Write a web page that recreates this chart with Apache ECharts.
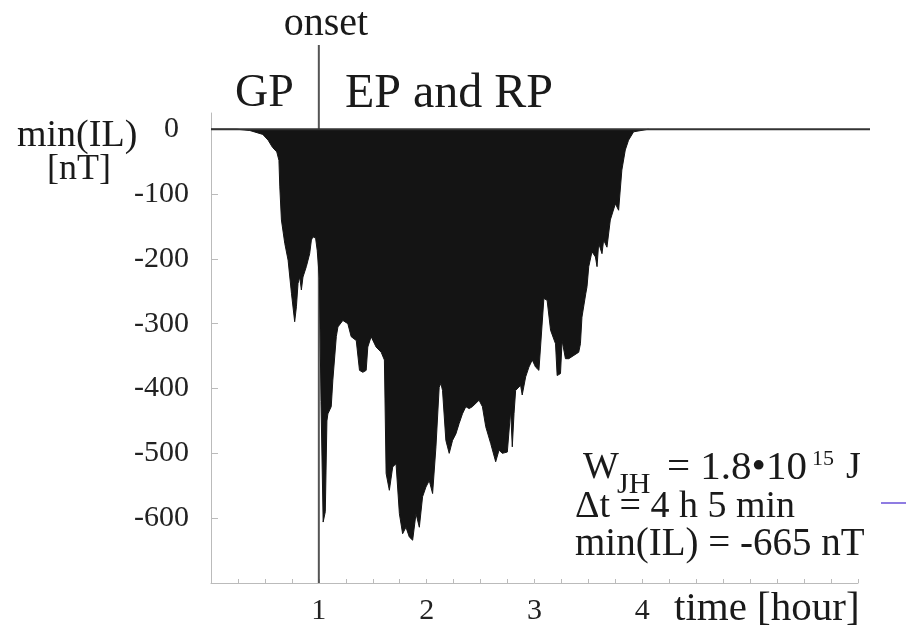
<!DOCTYPE html>
<html>
<head>
<meta charset="utf-8">
<script src="https://cdn.jsdelivr.net/npm/echarts@6/dist/echarts.min.js"></script>
<style>
html,body{margin:0;padding:0;background:#fff;}
#c{width:906px;height:635px;}
</style>
</head>
<body>
<div id="c"></div>
<script>
// time in hours
const times = [0, 0.24, 0.36, 0.48, 0.53, 0.57, 0.61, 0.63, 0.638, 0.653, 0.684, 0.715, 0.746, 0.776, 0.792, 0.807, 0.823, 0.838, 0.853, 0.884, 0.915, 0.931, 0.945, 0.97, 0.985,
  1.005, 1.02, 1.04, 1.06, 1.075, 1.084, 1.115, 1.13, 1.162, 1.177, 1.223, 1.269, 1.30, 1.347, 1.377, 1.408, 1.439, 1.454, 1.485, 1.531, 1.578, 1.608,
  1.624, 1.654, 1.685, 1.716, 1.747, 1.777, 1.808, 1.839, 1.87, 1.901, 1.932, 1.962, 1.993, 2.024, 2.055, 2.086, 2.116, 2.132, 2.147, 2.178, 2.209, 2.24,
  2.271, 2.301, 2.332, 2.363, 2.394, 2.424, 2.486, 2.517, 2.548, 2.594, 2.64, 2.671, 2.701, 2.748, 2.779, 2.794, 2.81, 2.825, 2.871, 2.886, 2.918, 2.948,
  2.979, 3.01, 3.041, 3.056, 3.087, 3.117, 3.149, 3.195, 3.21, 3.241, 3.256, 3.287, 3.318, 3.41, 3.426, 3.44, 3.475, 3.487, 3.503, 3.533, 3.565, 3.58,
  3.595, 3.626, 3.641, 3.672, 3.703, 3.75, 3.78, 3.81, 3.842, 3.872, 3.919, 4.057];
// min(IL) in nT
const minIL = [0, 0, -2, -8, -17, -28, -35, -48, -89, -140, -176, -202, -253, -297, -274, -238, -228, -248, -228, -212, -192, -171, -166, -168, -187,
  -230, -420, -606, -590, -450, -439, -428, -387, -320, -305, -295, -300, -320, -326, -372, -375, -372, -336, -320, -336, -344, -356,
  -531, -557, -521, -516, -593, -624, -614, -629, -634, -593, -614, -567, -552, -542, -562, -490, -398, -392, -403, -480, -500, -480,
  -470, -454, -439, -428, -431, -428, -418, -428, -459, -485, -513, -495, -500, -498, -434, -490, -439, -403, -395, -410, -382, -367,
  -356, -367, -372, -336, -261, -264, -310, -331, -380, -377, -326, -354, -354, -344, -331, -290, -254, -243, -212, -189, -197, -212,
  -176, -192, -171, -182, -140, -115, -125, -63, -32, -17, -4, 0];

const yTickValues = [0, -100, -200, -300, -400, -500, -600];
const xLabelValues = [1, 2, 3, 4];
const xTickValues = [0.25, 0.5, 0.75, 1, 1.25, 1.5, 1.75, 2, 2.25, 2.5, 2.75, 3, 3.25, 3.5, 3.75, 4, 4.25, 4.5, 4.75, 5, 5.25, 5.5, 5.75, 6];
const onsetTime = 1;
const zeroLineEnd = 6.1;
const onsetTop = 130;

const SERIF = "'Liberation Serif','Times New Roman',serif";
const chart = echarts.init(document.getElementById('c'), null, {renderer: 'canvas'});

const series = [
  {
    type: 'line', data: [[onsetTime, -700], [onsetTime, onsetTop]], clip: false, z: 1,
    showSymbol: false, symbol: 'none', silent: true,
    lineStyle: {color: '#555', width: 2}
  },
  {
    type: 'line', data: times.map((t, i) => [t, minIL[i]]), z: 2,
    showSymbol: false, symbol: 'none', silent: true,
    lineStyle: {color: '#141414', width: 1},
    areaStyle: {color: '#141414', opacity: 1, origin: 0}
  },
  {
    type: 'line', data: [[0, 0], [zeroLineEnd, 0]], xAxisIndex: 1, yAxisIndex: 1, z: 3,
    showSymbol: false, symbol: 'none', silent: true,
    lineStyle: {color: '#333', width: 2}
  }
];

function txt(text, x, y, size, align, extra) {
  return Object.assign({
    type: 'text', x: x, y: y, silent: true,
    style: {text: text, font: size + 'px ' + SERIF, fill: '#1a1a1a', textAlign: align || 'left', textVerticalAlign: 'middle'}
  }, extra || {});
}

const option = {
  backgroundColor: '#fff',
  animation: false,
  grid: [
    {left: 211, top: 113, width: 647, height: 470, containLabel: false},
    {left: 211, top: 113, width: 659, height: 470, containLabel: false}
  ],
  xAxis: [{
    type: 'value', min: 0, max: 6, position: 'bottom', gridIndex: 0,
    axisLine: {onZero: false, lineStyle: {color: '#bbb', width: 1}},
    axisTick: {show: true, inside: true, length: 4, customValues: xTickValues, lineStyle: {color: '#bbb'}},
    axisLabel: {customValues: xLabelValues, margin: 13, fontFamily: SERIF, fontSize: 30, color: '#222'},
    splitLine: {show: false}
  }, {
    type: 'value', min: 0, max: zeroLineEnd, gridIndex: 1, show: false
  }],
  yAxis: [{
    type: 'value', min: -700, max: 25, gridIndex: 0,
    axisLine: {show: true, lineStyle: {color: '#bbb', width: 1}},
    axisTick: {show: true, inside: true, length: 7, customValues: yTickValues, lineStyle: {color: '#bbb'}},
    axisLabel: {
      customValues: yTickValues, margin: 22, fontFamily: SERIF, fontSize: 30, color: '#222',
      formatter: v => v === 0 ? '{z|0}' : String(v),
      rich: {z: {fontFamily: SERIF, fontSize: 30, color: '#222', padding: [0, 10, 0, 0]}}
    },
    splitLine: {show: false}
  }, {
    type: 'value', min: -700, max: 25, gridIndex: 1, show: false
  }],
  series: series,
  graphic: [
    txt('onset', 326, 24, 40, 'center'),
    txt('GP', 235, 94, 46, 'left'),
    txt('EP and RP', 345, 94, 48, 'left'),
    txt('min(IL)', 17, 136, 38, 'left'),
    txt('[nT]', 47, 170, 36, 'left'),
    txt('time [hour]', 674, 609, 41, 'left'),
    txt('W', 583, 468, 38, 'left'),
    txt('JH', 617, 485, 30, 'left'),
    txt('= 1.8\u202210', 667, 468, 41, 'left'),
    txt('15', 812, 459, 22, 'left'),
    txt('J', 846, 468, 38, 'left'),
    txt('\u0394t = 4 h 5 min', 575, 507, 38, 'left'),
    txt('min(IL) = -665 nT', 575, 545, 39, 'left'),
    {type: 'line', silent: true, shape: {x1: 881, y1: 503, x2: 906, y2: 503}, style: {stroke: '#6a50d8', lineWidth: 1.5}}
  ]
};
chart.setOption(option);
</script>
</body>
</html>
